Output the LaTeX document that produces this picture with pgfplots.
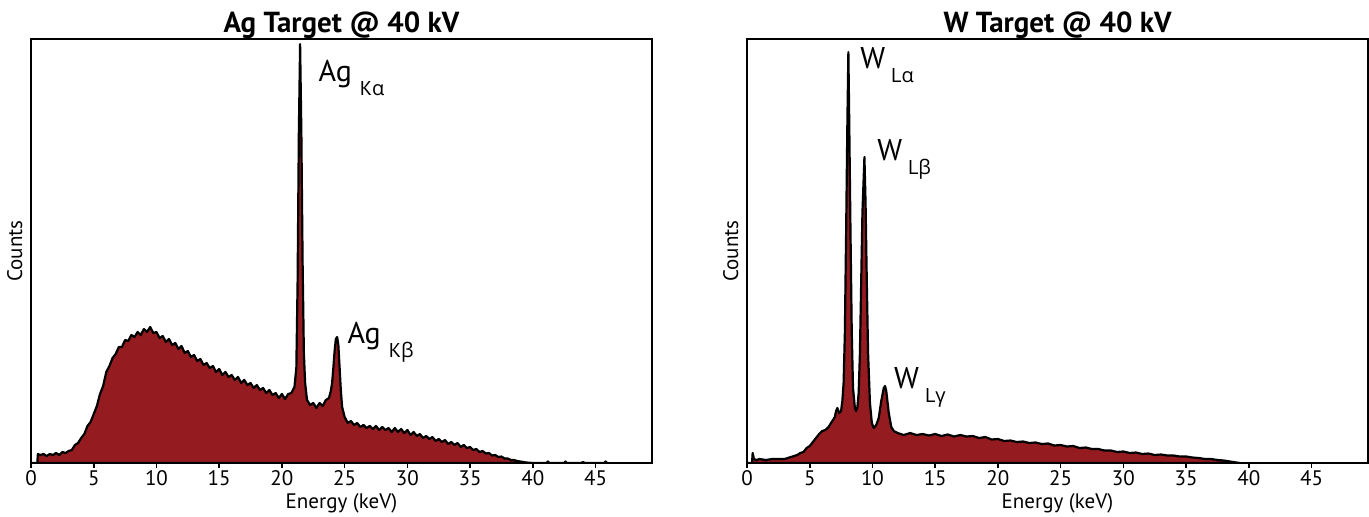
\documentclass[border=0pt]{standalone}
\usepackage{fontspec}
\setmainfont{PT Sans}
\newfontfamily\grk{Open Sans}
\usepackage{pgfplots}
\pgfplotsset{compat=1.18}
\definecolor{spec}{HTML}{941B20}

\pgfplotsset{
  spectrum/.style={
    scale only axis, width=310.5pt, height=212pt,
    xmin=0, xmax=49.5, ymin=0, ymax=424,
    xtick={0,5,...,45}, ytick=\empty,
    axis line style={line width=1.3pt},
    tick align=outside, xtick pos=left, major tick length=2.5pt,
    tick style={line width=0.8pt, black},
    ticklabel style={font=\fontsize{10.5}{12}\selectfont},
    xticklabel style={anchor=base, inner sep=1pt, yshift=-8.5pt},
    /pgf/number format/assume math mode=true,
    xlabel={Energy (keV)}, ylabel={Counts},
    label style={font=\fontsize{10.5}{12}\selectfont},
    xlabel style={at={(axis description cs:0.5,0)}, anchor=base, inner sep=0pt, yshift=-22.5pt},
    ylabel style={at={(axis description cs:-0.026,0.5)}, anchor=center},
    every axis title shift=0pt,
    title style={font=\bfseries\fontsize{14.5}{16}\selectfont,
                 at={(axis description cs:0.5,1)}, anchor=base, yshift=3.5pt},
    axis on top,
  },
  spec line/.style={fill=spec, draw=black, line width=1.1pt, line join=round},
}
\tikzset{peak/.style={anchor=base west, inner sep=0pt, font=\fontsize{15}{17}\selectfont}}
\newcommand{\sub}[1]{\raisebox{-7pt}{\fontsize{10}{12}\selectfont #1}}

\begin{document}
\begin{tikzpicture}
% page frame with the reference's proportions (1369 x 516 px at 2 px per pt)
\path[use as bounding box] (-15.5pt,-26.5pt) rectangle (669pt,231.5pt);
% ---- Ag target
\begin{axis}[spectrum, title={Ag Target @ 40 kV}]
\addplot[spec line] coordinates {
(0,0) (0.5,0) (0.55,9) (0.75,8) (1.0,9) (1.25,7) (1.5,9) (1.75,8) (2.0,10) (2.25,8)
(2.5,11) (2.75,10) (3.0,12) (3.25,13) (3.5,18) (3.75,20) (4.0,25) (4.25,29) (4.5,37)
(4.75,41) (5.0,49) (5.25,57) (5.5,69) (5.75,77) (6.0,91) (6.25,97) (6.5,105) (6.75,109)
(7.0,116) (7.25,116) (7.5,123) (7.75,122) (8.0,128) (8.25,126) (8.5,131) (8.75,128)
(9.0,134) (9.25,131) (9.5,136) (9.75,130) (10.0,131) (10.25,125) (10.5,127) (10.75,121)
(11.0,124) (11.25,118) (11.5,120) (11.75,114) (12.0,117) (12.25,110) (12.5,112) (12.75,106)
(13.0,108) (13.25,102) (13.5,104) (13.75,98) (14.0,100) (14.25,95) (14.5,97) (14.75,91)
(15.0,94) (15.25,88) (15.5,91) (15.75,86) (16.0,88) (16.25,83) (16.5,86) (16.75,80)
(17.0,83) (17.25,78) (17.5,80) (17.75,75) (18.0,78) (18.25,73) (18.5,75) (18.75,70)
(19.0,73) (19.25,68) (19.5,70) (19.75,65) (20.0,69) (20.25,64) (20.5,69) (20.75,70)
(21.0,76) (21.15,95) (21.25,180) (21.35,330) (21.45,419) (21.55,330) (21.65,200)
(21.75,110) (21.85,80) (22.0,63) (22.25,58) (22.5,60) (22.75,55) (23.0,60) (23.25,57)
(23.5,63) (23.75,65) (23.9,72) (24.0,80) (24.1,95) (24.2,112) (24.3,124) (24.4,126)
(24.5,118) (24.6,95) (24.7,72) (24.8,56) (25.0,46) (25.25,40) (25.5,42) (25.75,38)
(26.0,40) (26.25,36) (26.5,38) (26.75,35) (27.0,37) (27.25,34) (27.5,37) (27.75,33)
(28.0,36) (28.25,33) (28.5,35) (28.75,31) (29.0,35) (29.25,31) (29.5,34) (29.75,30)
(30.0,33) (30.25,28) (30.5,31) (30.75,27) (31.0,29) (31.25,25) (31.5,27) (31.75,24)
(32.0,26) (32.25,22) (32.5,24) (32.75,21) (33.0,23) (33.25,19) (33.5,21) (33.75,18)
(34.0,20) (34.25,16) (34.5,18) (34.75,15) (35.0,16) (35.25,13) (35.5,14) (35.75,11)
(36.0,12) (36.25,9.5) (36.5,10) (36.75,7.5) (37.0,8) (37.25,6) (37.5,6.5) (37.75,4.5)
(38.0,4.5) (38.25,3) (38.5,3) (38.75,2) (39.0,1.5) (39.5,0.5) (40.0,0)
(41.1,0) (41.2,1.5) (41.3,0) (42.5,0) (42.6,1.5) (42.7,0) (43.9,0) (44.0,1.2) (44.1,0)
(45.7,0) (45.8,1.5) (45.9,0) (46.0,0)
} \closedcycle;
\node[peak] at (axis cs:22.9,382) {Ag\hspace{4pt}\sub{K{\grk α}}};
\node[peak] at (axis cs:25.2,120) {Ag\hspace{4pt}\sub{K{\grk β}}};
\end{axis}

% ---- W target
\begin{axis}[spectrum, xshift=358pt, title={W Target @ 40 kV}]
\addplot[spec line] coordinates {
(0,0) (0.4,0) (0.45,10) (0.55,4) (0.75,3) (1.0,4) (1.5,3) (2.0,4) (2.5,4) (3.0,4)
(3.25,5) (3.5,6) (3.75,7) (4.0,8) (4.25,10) (4.5,11) (4.75,15) (5.0,17) (5.25,21)
(5.5,25) (5.75,29) (6.0,32) (6.25,33) (6.5,36) (6.75,41) (7.0,46) (7.1,52) (7.2,55)
(7.35,50) (7.5,52) (7.6,62) (7.7,80) (7.8,130) (7.9,230) (8.0,340) (8.08,411) (8.15,340)
(8.25,230) (8.35,130) (8.45,75) (8.6,55) (8.7,52) (8.8,56) (8.9,70) (9.0,110) (9.1,180)
(9.2,250) (9.36,306) (9.45,260) (9.55,180) (9.65,110) (9.8,60) (9.95,40) (10.1,35)
(10.3,38) (10.5,45) (10.7,62) (10.9,75) (11.0,77) (11.1,72) (11.3,50) (11.5,36) (11.7,32)
(12.0,30) (12.5,28) (13.0,30) (13.5,28) (14.0,29) (14.5,27.5) (15.0,29) (15.5,27)
(16.0,28.5) (16.5,26.5) (17.0,28) (17.5,26.5) (18.0,27) (18.5,25) (19.0,26) (19.5,23.5)
(20.0,24) (20.5,22) (21.0,22.5) (21.5,21) (22.0,21.5) (22.5,20) (23.0,20.5) (23.5,19)
(24.0,19.5) (24.5,17.5) (25.0,18) (25.5,16.5) (26.0,17) (26.5,15) (27.0,15.5) (27.5,14)
(28.0,14) (28.5,12.5) (29.0,12.5) (29.5,11) (30.0,11.5) (30.5,10) (31.0,10.5) (31.5,9)
(32.0,9.5) (32.5,8) (33.0,8.5) (33.5,7.5) (34.0,7.5) (34.5,6.5) (35.0,6.5) (35.5,5.5)
(36.0,5) (36.5,4) (37.0,4) (37.5,3) (38.0,2.5) (38.5,1.5) (39.0,0.5) (39.3,0)
} \closedcycle;
\node[peak] at (axis cs:9.0,395) {W\hspace{3pt}\sub{L{\grk α}}};
\node[peak] at (axis cs:10.35,303) {W\hspace{3pt}\sub{L{\grk β}}};
\node[peak] at (axis cs:11.7,75) {W\hspace{3pt}\sub{L{\grk γ}}};
\end{axis}
\end{tikzpicture}
\end{document}
